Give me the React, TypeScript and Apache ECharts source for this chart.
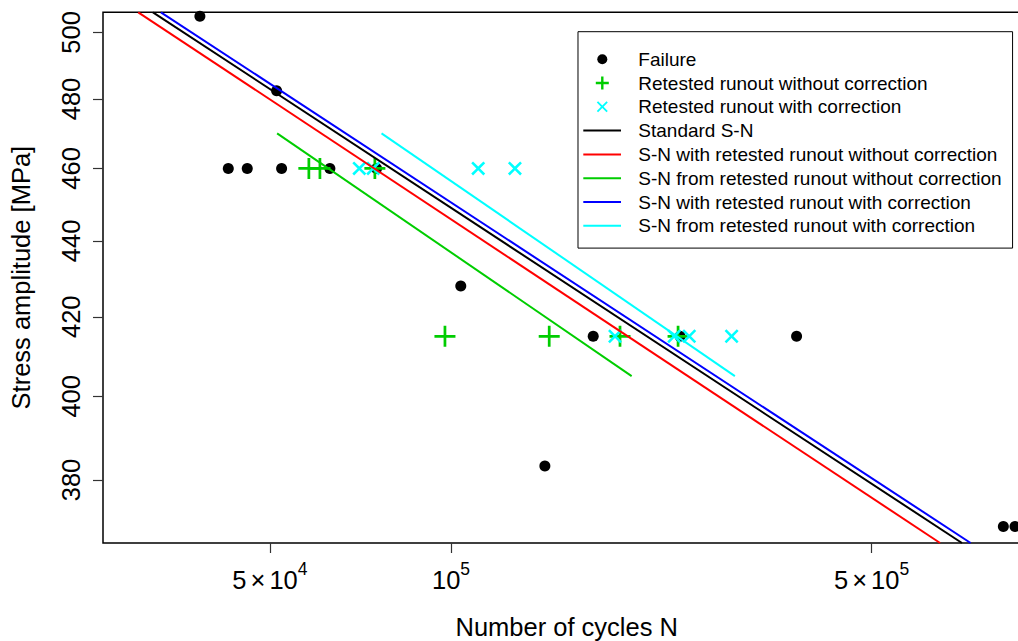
import React, { useEffect, useRef } from 'react';
import * as echarts from 'echarts';

// ---- data ----
const failureN = [38250, 51300, 42640, 45850, 52290, 62900, 75200, 103800, 143200, 172300, 240200, 375200, 827700, 865500];
const failureS = [505, 482.4, 460, 460, 460, 460, 460, 428, 383.3, 415, 415, 415, 369.3, 369.3];

const retestNoCorrN = [58040, 60550, 74720, 97700, 145600, 190900, 238400];
const retestNoCorrS = [460, 460, 460, 415, 415, 415, 415];

const retestCorrN = [70400, 74250, 110960, 127700, 187300, 234900, 248800, 292600];
const retestCorrS = [460, 460, 460, 460, 415, 415, 415, 415];

const standardN = [31960, 706500];
const standardS = [506.2, 365.6];
const withNoCorrN = [30210, 649800];
const withNoCorrS = [506.2, 365.6];
const fromNoCorrN = [51400, 199600];
const fromNoCorrS = [470, 405];
const withCorrN = [32950, 730300];
const withCorrS = [506.2, 365.6];
const fromCorrN = [76650, 296300];
const fromCorrS = [470, 405];

const xTicks = [5e4, 1e5, 5e5];
const yTicks = [380, 400, 420, 440, 460, 480, 500];
const xRange = [26400, 918000];
const yRange = [365.6, 506.2];

const seriesNames = [
  'Failure',
  'Retested runout without correction',
  'Retested runout with correction',
  'Standard S-N',
  'S-N with retested runout without correction',
  'S-N from retested runout without correction',
  'S-N with retested runout with correction',
  'S-N from retested runout with correction',
];

const FONT = '"Liberation Sans", Arial, Helvetica, sans-serif';
const BOX = 'M0,0 M50,19 ';
const icons = {
  dot: 'path://' + BOX + 'M14,9.5 A5,5 0 1,1 24,9.5 A5,5 0 1,1 14,9.5 Z',
  plus: 'path://' + BOX + 'M17.8,3 H20.2 V8.3 H25.5 V10.7 H20.2 V16 H17.8 V10.7 H12.5 V8.3 H17.8 Z',
  cross: 'path://' + BOX + 'M13.5,5.3 L14.8,4 L19,8.2 L23.2,4 L24.5,5.3 L20.3,9.5 L24.5,13.7 L23.2,15 L19,10.8 L14.8,15 L13.5,13.7 L17.7,9.5 Z',
  line: 'path://' + BOX + 'M0,8.5 H37.7 V10.5 H0 Z',
};

const plusSymbol = 'path://M8.7,0 H11.3 V8.7 H20 V11.3 H11.3 V20 H8.7 V11.3 H0 V8.7 H8.7 Z';
const crossSymbol = 'path://M0,1.8 L1.8,0 L7,5.2 L12.2,0 L14,1.8 L8.8,7 L14,12.2 L12.2,14 L7,8.8 L1.8,14 L0,12.2 L5.2,7 Z';

const zip = (a: number[], b: number[]) => a.map((v, i) => [v, b[i]]);

const lineSeries = (name: string, n: number[], s: number[], color: string) => ({
  name,
  type: 'line',
  data: zip(n, s),
  color,
  symbol: 'none',
  showSymbol: false,
  lineStyle: { color, width: 2, opacity: 1 },
  clip: true,
});

export default function App() {
  const ref = useRef<HTMLDivElement>(null);
  useEffect(() => {
    const chart = echarts.init(ref.current!, null, { renderer: 'svg' });
    const option: any = {
      animation: false,
      backgroundColor: '#fff',
      textStyle: { fontFamily: FONT },
      grid: {
        left: 103,
        top: 12.3,
        width: 927.4,
        height: 530.7,
        show: true,
        borderColor: '#000',
        borderWidth: 1.5,
        backgroundColor: 'transparent',
        containLabel: false,
        outerBoundsMode: 'none',
      },
      xAxis: {
        type: 'log',
        min: xRange[0],
        max: xRange[1],
        name: 'Number of cycles N',
        nameLocation: 'middle',
        nameGap: 71,
        nameTextStyle: { fontSize: 25.5, color: '#000', fontFamily: FONT },
        axisLine: { show: false },
        splitLine: { show: false },
        minorTick: { show: false },
        axisTick: { show: true, inside: false, length: 10, customValues: xTicks, lineStyle: { color: '#333', width: 1.2 } },
        axisLabel: {
          customValues: xTicks,
          margin: 16.5,
          color: '#000',
          formatter: (v: number) => {
            const e = Math.floor(Math.log10(v) + 1e-9);
            const m = Math.round(v / Math.pow(10, e));
            return m === 1 ? `{a|10}{s|${e}}` : `{a|${m}}{m|×}{a|10}{s|${e}}`;
          },
          rich: {
            a: { fontSize: 25.5, lineHeight: 40, fontFamily: FONT, color: '#000' },
            m: { fontSize: 25.5, lineHeight: 40, fontFamily: FONT, color: '#000', padding: [0, 4, 0, 4] },
            s: { fontSize: 17.5, lineHeight: 18, fontFamily: FONT, color: '#000', verticalAlign: 'top' },
          },
        },
      },
      yAxis: {
        type: 'log',
        min: yRange[0],
        max: yRange[1],
        name: 'Stress amplitude [MPa]',
        nameLocation: 'middle',
        nameRotate: 90,
        nameGap: 69,
        nameTextStyle: { fontSize: 25.5, color: '#000', fontFamily: FONT },
        axisLine: { show: false },
        splitLine: { show: false },
        minorTick: { show: false },
        axisTick: { show: true, inside: false, length: 10, customValues: yTicks, lineStyle: { color: '#333', width: 1.2 } },
        axisLabel: {
          customValues: yTicks,
          rotate: 90,
          margin: 19,
          fontSize: 25.5,
          color: '#000',
          fontFamily: FONT,
          formatter: (v: number) => String(Math.round(v)),
        },
      },
      legend: {
        orient: 'vertical',
        left: 578,
        top: 31.7,
        padding: [18, 11, 12.8, 5.3],
        itemGap: 4.8,
        itemWidth: 50,
        itemHeight: 19,
        borderColor: '#000',
        borderWidth: 1,
        borderRadius: 0,
        backgroundColor: '#fff',
        selectedMode: false,
        itemStyle: { borderWidth: 0, opacity: 1 },
        textStyle: { fontSize: 19, lineHeight: 19, color: '#000', fontFamily: FONT },
        data: [
          { name: seriesNames[0], icon: icons.dot },
          { name: seriesNames[1], icon: icons.plus },
          { name: seriesNames[2], icon: icons.cross },
          { name: seriesNames[3], icon: icons.line },
          { name: seriesNames[4], icon: icons.line },
          { name: seriesNames[5], icon: icons.line },
          { name: seriesNames[6], icon: icons.line },
          { name: seriesNames[7], icon: icons.line },
        ],
      },
      series: [
        {
          name: seriesNames[0],
          type: 'scatter',
          data: zip(failureN, failureS),
          symbol: 'circle',
          symbolSize: 11,
          color: '#000',
          itemStyle: { color: '#000', opacity: 1 },
        },
        {
          name: seriesNames[1],
          type: 'scatter',
          data: zip(retestNoCorrN, retestNoCorrS),
          symbol: plusSymbol,
          symbolSize: 21,
          color: '#00cd00',
          itemStyle: { color: '#00cd00', opacity: 1 },
        },
        {
          name: seriesNames[2],
          type: 'scatter',
          data: zip(retestCorrN, retestCorrS),
          symbol: crossSymbol,
          symbolSize: 14,
          color: '#00ffff',
          itemStyle: { color: '#00ffff', opacity: 1 },
        },
        lineSeries(seriesNames[3], standardN, standardS, '#000000'),
        lineSeries(seriesNames[4], withNoCorrN, withNoCorrS, '#ff0000'),
        lineSeries(seriesNames[5], fromNoCorrN, fromNoCorrS, '#00cd00'),
        lineSeries(seriesNames[6], withCorrN, withCorrS, '#0000ff'),
        lineSeries(seriesNames[7], fromCorrN, fromCorrS, '#00ffff'),
      ],
    };
    chart.setOption(option);
    return () => chart.dispose();
  }, []);
  return (
    <div
      ref={ref}
      style={{ position: 'fixed', left: 0, top: 0, width: 1018, height: 641, background: '#fff' }}
    />
  );
}
